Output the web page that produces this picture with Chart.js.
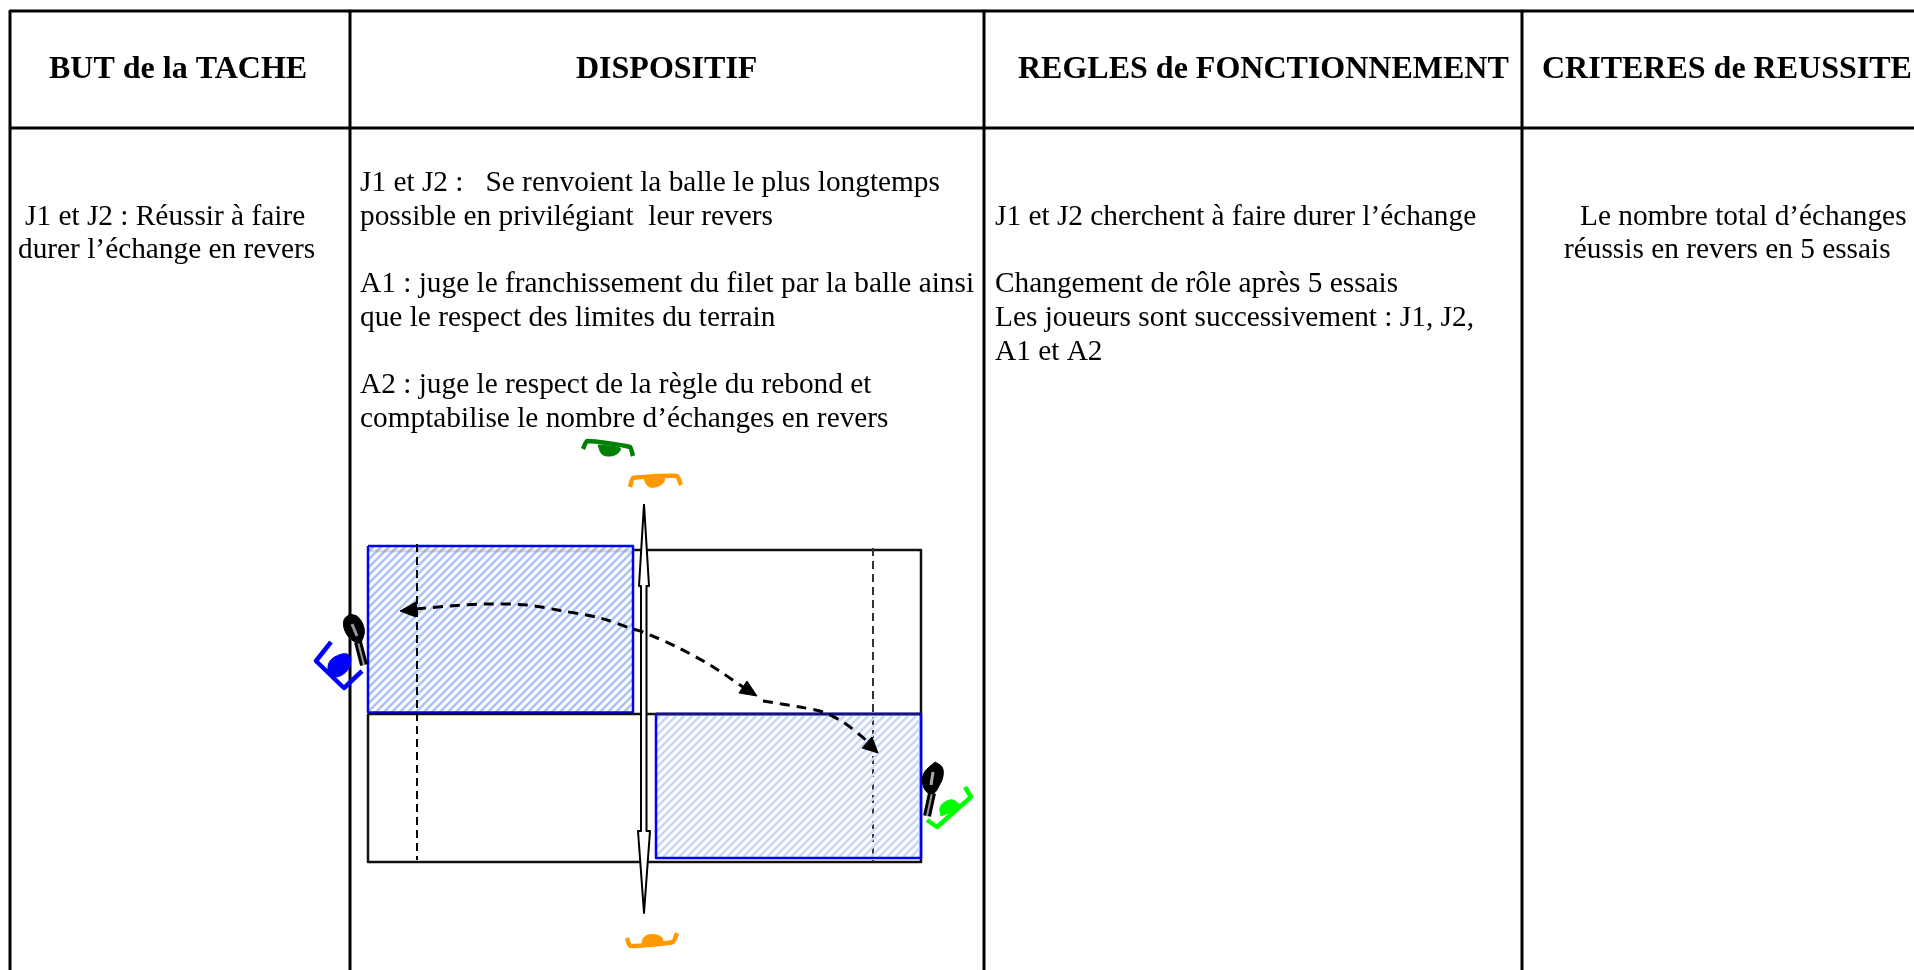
<!DOCTYPE html>
<html>
<head>
<meta charset="utf-8">
<script src="https://cdn.jsdelivr.net/npm/chart.js@4"></script>
<style>
  html, body { margin: 0; padding: 0; background: #fff; overflow: hidden; }
  canvas { display: block; }
</style>
</head>
<body>
<canvas id="sheet" width="1914" height="970"></canvas>
<script>
// All coordinates are on a 1914 x 970 sheet (x right, y down)
const tableLines = [
  [[10, 11], [1914, 11]],
  [[10, 128], [1914, 128]],
  [[10, 11], [10, 970]],
  [[350, 11], [350, 970]],
  [[984, 11], [984, 970]],
  [[1522, 11], [1522, 970]]
];

const headerTexts = ['BUT de la TACHE', 'DISPOSITIF', 'REGLES de FONCTIONNEMENT', 'CRITERES de REUSSITE'];
const headerX = [49, 576, 1018, 1542];

const bodyTexts = [
  'J1 et J2 : Réussir à faire', 'durer l’échange en revers',
  'J1 et J2 :   Se renvoient la balle le plus longtemps', 'possible en privilégiant  leur revers',
  'A1 : juge le franchissement du filet par la balle ainsi', 'que le respect des limites du terrain',
  'A2 : juge le respect de la règle du rebond et', 'comptabilise le nombre d’échanges en revers',
  'J1 et J2 cherchent à faire durer l’échange',
  'Changement de rôle après 5 essais', 'Les joueurs sont successivement : J1, J2,', 'A1 et A2',
  'Le nombre total d’échanges', 'réussis en revers en 5 essais'
];
const bodyX = [25, 18, 360, 360, 360, 360, 360, 360, 995, 995, 995, 995, 1580, 1564];
const bodyY = [225, 258, 191, 225, 292, 326, 393, 427, 225, 292, 326, 360, 225, 258];

const courtOutline = [[633, 550], [921, 550], [921, 862], [368, 862], [368, 714]];
const courtMiddle = [[368, 714], [921, 714]];
const courtTopShadow = [[370, 551], [631, 551]];
const leftServiceLine = [[417, 544], [417, 860]];
const rightServiceLine = [[873, 548], [873, 862]];

const hatchLeft = [[368, 546], [633, 546], [633, 712.5], [368, 712.5], [368, 546]];
const hatchRight = [[656, 714], [921, 714], [921, 858], [656, 858], [656, 714]];
const hatchRightTop = [[656, 714], [921, 714]];

const netArrow = [
  [644, 504], [649, 586], [646.5, 586], [646.5, 831], [650, 831], [644, 913],
  [638, 831], [641, 831], [641, 586], [639, 586], [644, 504]
];

const ballPathOne = [[416, 609], [450, 606], [487, 604], [527, 605], [563, 611], [600, 618], [633, 629], [643, 632], [677, 647], [710, 665], [743, 687]];
const ballPathTwo = [[763, 701], [800, 707], [823, 712], [843, 722], [860, 735], [868, 742]];
const arrowHeadLeft = [[400, 611], [416, 602], [416, 617], [400, 611]];
const arrowHeadMiddle = [[747, 681], [757, 696], [739, 693], [747, 681]];
const arrowHeadRight = [[878, 753], [862, 748], [872, 737], [878, 753]];

const blueBracket = [[331, 642], [316, 661], [344, 688], [362, 671]];
const blueHead = [[351, 658], [349, 668], [340, 676], [331, 676], [328, 671], [330, 661], [339, 655], [347, 654], [351, 658]];
const greenBracket = [[583, 449], [587, 441], [630, 447], [633, 456]];
const greenHead = [[598, 445], [620, 448], [618, 453], [610, 456], [602, 454], [598, 445]];
const orangeTopBracket = [[630, 487], [633, 478], [677, 476], [681, 485]];
const orangeTopHead = [[644, 479], [664, 477], [663, 483], [655, 487], [648, 486], [644, 479]];
const orangeLowBracket = [[627, 938], [630, 946], [673, 942], [677, 933]];
const orangeLowHead = [[642, 945], [662, 943], [662, 938], [656, 935], [648, 935], [643, 939], [642, 945]];
const limeBracket = [[965, 787], [971, 797], [937, 827], [927, 820]];
const limeHead = [[941, 816], [940, 808], [945, 802], [953, 800], [959, 805], [958, 809], [941, 816]];

const racketOneHead = [[350, 614], [358, 617], [364, 628], [363, 638], [359, 643], [352, 640], [345, 631], [344, 620], [350, 614]];
const racketOneSlit = [[352, 624], [357, 636]];
const racketOneHandle = [[358, 642], [364, 665]];
const racketTwoHead = [[935, 762], [942, 767], [943, 776], [939, 786], [934, 793], [928, 793], [923, 785], [924, 773], [935, 762]];
const racketTwoSlit = [[933, 772], [931, 785]];
const racketTwoHandle = [[932, 793], [927, 816]];

const BLUE = '#0000ff';
const GREEN = '#008000';
const ORANGE = '#ff9900';
const LIME = '#00ff00';

function makeHatch(color, size) {
  const tile = document.createElement('canvas');
  tile.width = size;
  tile.height = size;
  const c = tile.getContext('2d');
  c.strokeStyle = color;
  c.lineWidth = 2.6;
  c.beginPath();
  c.moveTo(-1, size + 1); c.lineTo(size + 1, -1);
  c.moveTo(-2, 2); c.lineTo(2, -2);
  c.moveTo(size - 2, size + 2); c.lineTo(size + 2, size - 2);
  c.stroke();
  return c.createPattern(tile, 'repeat');
}

function line(points, color, width, extra) {
  return Object.assign({
    data: points.map(p => ({ x: p[0], y: p[1] })),
    showLine: true,
    borderColor: color,
    borderWidth: width,
    borderJoinStyle: 'round',
    pointRadius: 0,
    fill: false,
    tension: 0
  }, extra || {});
}

function solid(points, color) {
  return line(points, color, 1, { fill: 'shape', backgroundColor: color, tension: 0.4 });
}

function polygon(points, fillColor, edgeColor, width) {
  return line(points, edgeColor, width, { fill: 'shape', backgroundColor: fillColor });
}

// listed bottom to top, reversed below because Chart.js paints the first dataset last
const layers = [
  ...tableLines.map(l => line(l, '#000', 3)),
  line(courtOutline, '#111', 2.5),
  line(rightServiceLine, '#333', 2, { borderDash: [8, 5] }),
  polygon(hatchLeft, makeHatch('#adc3f6', 8), BLUE, 2.5),
  line(courtTopShadow, 'rgba(120,120,120,0.25)', 3),
  line(courtMiddle, '#111', 2.5),
  polygon(hatchRight, makeHatch('#c6d6f9', 8), BLUE, 2.5),
  line(hatchRightTop, '#14147a', 2.5),
  line(leftServiceLine, '#000', 2, { borderDash: [8, 5] }),
  polygon(netArrow, '#fff', '#000', 2),
  line(ballPathOne, '#000', 3, { borderDash: [10, 7], tension: 0.3 }),
  line(ballPathTwo, '#000', 3, { borderDash: [10, 7], tension: 0.3 }),
  polygon(arrowHeadLeft, '#000', '#000', 1),
  polygon(arrowHeadMiddle, '#000', '#000', 1),
  polygon(arrowHeadRight, '#000', '#000', 1),
  line(blueBracket, BLUE, 4.5),
  solid(blueHead, BLUE),
  line(greenBracket, GREEN, 4.5, { tension: 0.15 }),
  solid(greenHead, GREEN),
  line(orangeTopBracket, ORANGE, 4.5, { tension: 0.15 }),
  solid(orangeTopHead, ORANGE),
  line(orangeLowBracket, ORANGE, 4.5, { tension: 0.15 }),
  solid(orangeLowHead, ORANGE),
  line(limeBracket, LIME, 4.5),
  solid(limeHead, LIME),
  line(racketOneHandle, '#000', 8),
  line(racketOneHandle, '#999', 2),
  solid(racketOneHead, '#000'),
  line(racketOneSlit, '#999', 3),
  line(racketTwoHandle, '#000', 8),
  line(racketTwoHandle, '#999', 2),
  solid(racketTwoHead, '#000'),
  line(racketTwoSlit, '#aaa', 3)
];

const sheetText = {
  id: 'sheetText',
  afterDraw(chart) {
    const ctx = chart.ctx;
    const xs = chart.scales.x;
    const ys = chart.scales.y;
    ctx.save();
    ctx.fillStyle = '#000';
    ctx.textBaseline = 'alphabetic';
    ctx.textAlign = 'left';
    ctx.font = 'bold 32px "Liberation Serif"';
    headerTexts.forEach((t, i) => ctx.fillText(t, xs.getPixelForValue(headerX[i]), ys.getPixelForValue(78)));
    ctx.font = '29.33px "Liberation Serif"';
    bodyTexts.forEach((t, i) => ctx.fillText(t, xs.getPixelForValue(bodyX[i]), ys.getPixelForValue(bodyY[i])));
    ctx.restore();
  }
};

new Chart(document.getElementById('sheet'), {
  type: 'scatter',
  data: { datasets: layers.reverse() },
  options: {
    responsive: false,
    animation: false,
    events: [],
    layout: { padding: 0 },
    plugins: { legend: { display: false }, tooltip: { enabled: false } },
    scales: {
      x: { type: 'linear', display: false, min: 0, max: 1914 },
      y: { type: 'linear', display: false, reverse: true, min: 0, max: 970 }
    }
  },
  plugins: [sheetText]
});
</script>
</body>
</html>
